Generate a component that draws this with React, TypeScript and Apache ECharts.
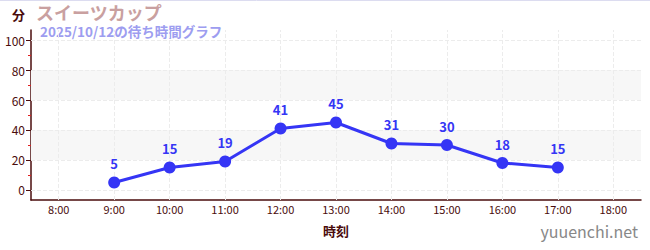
import React, { useEffect, useRef } from "react";
import * as echarts from "echarts";

const categories = ["8:00", "9:00", "10:00", "11:00", "12:00", "13:00", "14:00", "15:00", "16:00", "17:00", "18:00"];
const waitMinutes: (number | null)[] = [null, 5, 15, 19, 41, 45, 31, 30, 18, 15, null];
const yLabelValues = [0, 20, 40, 60, 80, 100];
const yMinorValues = [10, 30, 50, 70, 90];
const bands: [number, number][] = [[20, 40], [60, 80]];
const title = "スイーツカップ";
const subtitle = "2025/10/12の待ち時間グラフ";
const yUnit = "分";
const xName = "時刻";
const watermark = "yuuenchi.net";

const FONT = "'Noto Sans CJK JP', 'Noto Sans', sans-serif";
const MAROON = "#4a0c0c";
const BLUE = "#3535f5";

export default function App() {
  const ref = useRef<HTMLDivElement>(null);
  useEffect(() => {
    document.body.style.margin = "0";
    const chart = echarts.init(ref.current!, null, { renderer: "svg" });
    chart.setOption({
      animation: false,
      textStyle: { fontFamily: FONT },
      grid: { left: 31, right: 9, top: 30, bottom: 50, containLabel: false },
      graphic: [
        { type: "line", shape: { x1: 0, y1: 0.5, x2: 650, y2: 0.5 }, style: { stroke: "#dcdcf0", lineWidth: 1 } },
        { type: "text", left: 12, top: 8, style: { text: yUnit, fontSize: 13, fontWeight: "bold", fill: MAROON, fontFamily: FONT } },
        { type: "text", left: 36, top: 3, style: { text: title, fontSize: 18, fontWeight: "bold", fill: "#c9a0a0", fontFamily: FONT } },
        { type: "text", left: 40, top: 24, style: { text: subtitle, fontSize: 13.5, fontWeight: "bold", fill: "#9d9df0", fontFamily: FONT } },
        { type: "text", right: 12, top: 223, style: { text: watermark, fontSize: 16, fill: "#888888", fontFamily: FONT } },
      ],
      xAxis: {
        type: "category",
        data: categories,
        boundaryGap: true,
        name: xName,
        nameLocation: "middle",
        nameGap: 24,
        nameTextStyle: { color: MAROON, fontSize: 13, fontWeight: "bold", fontFamily: FONT },
        axisLine: { onZero: false, lineStyle: { color: MAROON, width: 1.5 } },
        axisTick: { alignWithLabel: true, length: 4, lineStyle: { color: "#555" } },
        axisLabel: { color: MAROON, fontSize: 11, margin: 3, fontFamily: FONT },
        splitLine: { show: false },
      },
      yAxis: [
        {
          type: "value",
          min: -6.67,
          max: 106.67,
          axisLine: { show: true, lineStyle: { color: MAROON, width: 1.5 } },
          axisTick: { show: true, length: 5, customValues: yLabelValues, lineStyle: { color: MAROON } },
          axisLabel: { color: MAROON, fontSize: 12, margin: 6, customValues: yLabelValues, fontFamily: FONT },
          splitLine: { show: false },
        },
        {
          type: "value",
          min: -6.67,
          max: 106.67,
          position: "left",
          axisLine: { show: false },
          axisTick: { show: true, length: 3, customValues: yMinorValues, lineStyle: { color: "#e02020" } },
          axisLabel: { show: false },
          splitLine: { show: false },
        },
      ],
      series: [
        {
          type: "line",
          data: [],
          yAxisIndex: 0,
          z: 1,
          silent: true,
          markArea: {
            silent: true,
            itemStyle: { color: "#f7f7f7" },
            data: bands.map(([a, b]) => [{ yAxis: a }, { yAxis: b }]),
          },
          markLine: {
            silent: true,
            symbol: "none",
            label: { show: false },
            lineStyle: { color: "#ececec", type: "dashed", width: 1 },
            data: [
              ...yLabelValues.map((v) => ({ yAxis: v })),
              ...categories.map((c) => ({ xAxis: c })),
            ],
          },
        },
        {
          type: "line",
          data: waitMinutes,
          yAxisIndex: 0,
          z: 5,
          symbol: "circle",
          symbolSize: 12,
          lineStyle: { color: BLUE, width: 3 },
          itemStyle: { color: BLUE },
          label: { show: true, position: "top", distance: 6, color: BLUE, fontSize: 13, fontWeight: "bold", fontFamily: FONT },
        },
      ],
    });
    return () => chart.dispose();
  }, []);
  return <div ref={ref} style={{ width: 650, height: 250 }} />;
}
